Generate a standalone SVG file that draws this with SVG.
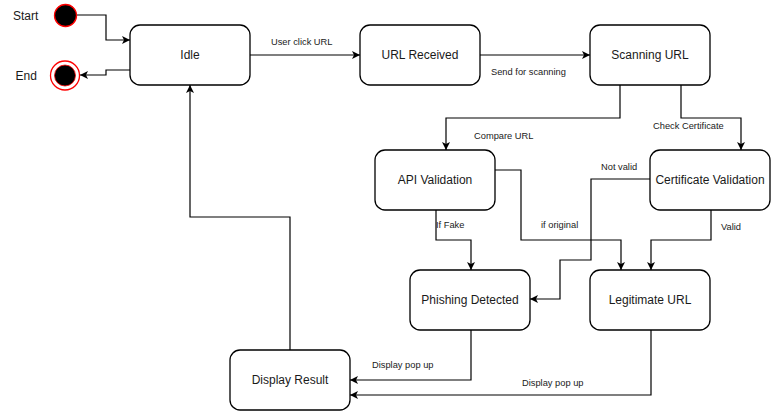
<svg xmlns="http://www.w3.org/2000/svg" width="771" height="411" viewBox="0 0 771 411">
<style>
.node rect{fill:#fff;stroke:#000;stroke-width:1.3}
.node text{font-family:"Liberation Sans",Arial,sans-serif;font-size:12px;fill:#1a1a1a;text-anchor:middle}
.edge{fill:none;stroke:#000;stroke-width:1.2}
.lbl{font-family:"Liberation Sans",Arial,sans-serif;font-size:9.3px;fill:#1a1a1a}
.side{font-family:"Liberation Sans",Arial,sans-serif;font-size:12px;fill:#1a1a1a}
</style>
<defs>
<marker id="arr" markerUnits="userSpaceOnUse" markerWidth="10" markerHeight="10" refX="8" refY="4" orient="auto">
<path d="M0,0 L8,4 L0,8 L2,4 z" fill="#000"/>
</marker>
</defs>
<rect width="771" height="411" fill="#fff"/>
<g id="connectors">
<path class="edge" marker-end="url(#arr)" d="M77,15 H106 V40 H130"/>
<path class="edge" marker-end="url(#arr)" d="M130,70 H106 V75 H80"/>
<path class="edge" marker-end="url(#arr)" d="M250,55 H360"/>
<path class="edge" marker-end="url(#arr)" d="M480,55 H590"/>
<path class="edge" marker-end="url(#arr)" d="M620,85 V118 H446 V150"/>
<path class="edge" marker-end="url(#arr)" d="M681,85 V118 H741 V150"/>
<path class="edge" marker-end="url(#arr)" d="M436,210 V240 H471 V270"/>
<path class="edge" marker-end="url(#arr)" d="M495,170 H521 V240 H621 V270"/>
<path class="edge" marker-end="url(#arr)" d="M650,179 H591 V260 H560 V299 H530"/>
<path class="edge" marker-end="url(#arr)" d="M711,210 V240 H651 V270"/>
<path class="edge" marker-end="url(#arr)" d="M471,330 V380 H350"/>
<path class="edge" marker-end="url(#arr)" d="M651,330 V395 H350"/>
<path class="edge" marker-end="url(#arr)" d="M290,350 V217 H190 V85"/>
<text class="lbl" x="271" y="44.5">User click URL</text>
<text class="lbl" x="491" y="74.5">Send for scanning</text>
<text class="lbl" x="474" y="138.5">Compare URL</text>
<text class="lbl" x="653" y="129">Check Certificate</text>
<text class="lbl" x="601" y="169.5">Not valid</text>
<text class="lbl" x="436" y="227.5">If Fake</text>
<text class="lbl" x="541" y="227.5">if original</text>
<text class="lbl" x="721" y="229.5">Valid</text>
<text class="lbl" x="372" y="367.5">Display pop up</text>
<text class="lbl" x="522" y="385.5">Display pop up</text>
</g>
<g id="start">
<circle cx="65.5" cy="15.5" r="11" fill="#000" stroke="#ff0000" stroke-width="1.3"/>
<text class="side" x="13" y="19.5">Start</text>
</g>
<g id="end">
<circle cx="65" cy="75.5" r="14.5" fill="#fff" stroke="#ff0000" stroke-width="1.3"/>
<circle cx="65" cy="75.5" r="10.5" fill="#000" stroke="#ff0000" stroke-width="0.8"/>
<text class="side" x="15.5" y="79.5">End</text>
</g>
<g id="idle" class="node"><rect x="130" y="25" width="120" height="60" rx="10"/><text x="190" y="59">Idle</text></g>
<g id="url-received" class="node"><rect x="360" y="25" width="120" height="60" rx="10"/><text x="420" y="59">URL Received</text></g>
<g id="scanning-url" class="node"><rect x="590" y="25" width="120" height="60" rx="10"/><text x="650" y="59">Scanning URL</text></g>
<g id="api-validation" class="node"><rect x="375" y="150" width="120" height="60" rx="10"/><text x="435" y="184">API Validation</text></g>
<g id="certificate-validation" class="node"><rect x="650" y="150" width="120" height="60" rx="10"/><text x="710" y="184">Certificate Validation</text></g>
<g id="phishing-detected" class="node"><rect x="410" y="270" width="120" height="60" rx="10"/><text x="470" y="304">Phishing Detected</text></g>
<g id="legitimate-url" class="node"><rect x="590" y="270" width="120" height="60" rx="10"/><text x="650" y="304">Legitimate URL</text></g>
<g id="display-result" class="node"><rect x="230" y="350" width="120" height="60" rx="10"/><text x="290" y="384">Display Result</text></g>
</svg>
